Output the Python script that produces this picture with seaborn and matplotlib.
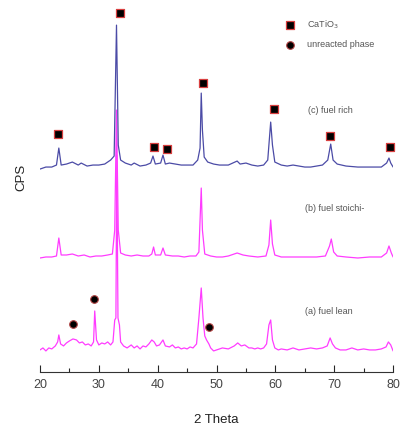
import matplotlib
matplotlib.use("Agg")
import matplotlib.pyplot as plt
import seaborn as sns
import pandas as pd

# ------------------------------------------------
# DATA (y in arbitrary CPS units, traces already offset)
# ------------------------------------------------
two_theta_c = [20, 21, 22, 22.8, 23.2, 23.6, 24.5, 25.5, 26.5, 27, 28, 29, 30, 31, 32, 32.6, 33.0, 33.3,
               33.7, 34.5, 35.5, 36, 37, 38, 38.8, 39.2, 39.6, 40.5, 40.9, 41.3, 42, 43, 44, 45, 46, 46.8,
               47.2, 47.4, 47.6, 47.9, 48.5, 49.5, 50.5, 52, 53.5, 54, 55, 56, 57, 58, 58.7, 59.2, 59.5,
               59.9, 61, 62, 63, 64, 65, 66, 67, 68, 68.9, 69.4, 69.8, 70.5, 72, 74, 76, 78, 78.9, 79.3,
               79.6, 80]
cps_c = [201, 203, 203, 205, 222, 205, 206, 208, 205, 207, 204, 205, 205, 206, 210, 214, 345, 225,
         210, 207, 205, 207, 204, 205, 207, 214, 206, 207, 215, 206, 207, 206, 205, 205, 205, 210,
         222, 277, 240, 213, 208, 206, 205, 205, 209, 206, 207, 205, 204, 205, 210, 248, 225,
         208, 205, 204, 205, 204, 203, 203, 204, 205, 210, 226, 210, 206, 204, 203, 203, 203, 207, 212,
         207, 203]

two_theta_b = [20, 21, 22, 22.8, 23.2, 23.6, 24.5, 25.5, 26.5, 27.5, 28.5, 29.5, 30.5, 31.5, 32.3, 32.7,
               33.0, 33.3, 33.7, 34.5, 35.5, 36.5, 37.5, 38.5, 39.0, 39.3, 39.6, 40.5, 40.9, 41.3, 42.5,
               43.5, 44.5, 45.5, 46.5, 47.0, 47.4, 47.6, 48.0, 49, 50, 51, 52, 53.5, 54.5, 55.5, 57,
               58.4, 58.9, 59.2, 59.5, 59.9, 61, 62.5, 64, 65.5, 67, 68.5, 69.2, 69.5, 69.9, 70.5, 72,
               74, 76, 78, 78.9, 79.3, 79.7, 80]
cps_b = [112, 113, 113, 114, 132, 115, 115, 116, 114, 115, 113, 114, 114, 115, 116, 140,
         260, 140, 117, 115, 114, 115, 114, 114, 116, 123, 115, 115, 122, 115, 114,
         114, 113, 114, 114, 118, 182, 140, 116, 114, 113, 113, 114, 117, 115, 114, 113,
         114, 125, 150, 126, 115, 113, 113, 113, 113, 113, 114, 124, 131, 118, 114, 113,
         112, 113, 113, 117, 124, 117, 113]

two_theta_a = [20, 20.5, 21, 21.5, 22, 22.6, 23.0, 23.2, 23.5, 24, 24.5, 25, 25.6, 26.2, 26.7, 27.2,
               27.7, 28.2, 28.7, 29.1, 29.3, 29.6, 30, 30.5, 31, 31.5, 32, 32.4, 32.7, 32.9, 33.05,
               33.25, 33.5, 33.7, 34.2, 34.8, 35.5, 36, 36.5, 37, 37.5, 38, 38.5, 39, 39.4, 39.8, 40.3,
               40.9, 41.3, 42, 42.5, 43, 43.5, 44, 44.5, 45, 45.5, 46, 46.6, 47.0, 47.4, 47.7, 48.0,
               48.3, 48.7, 49, 49.5, 50, 50.5, 51, 52, 53, 53.6, 54.2, 54.8, 55.5, 56, 56.5, 57, 57.5,
               58, 58.5, 58.9, 59.2, 59.5, 59.9, 60.5, 61, 62, 63, 63.5, 64, 65, 66, 67, 68, 68.8,
               69.3, 69.7, 70.2, 71, 72, 73, 74, 75, 76, 77, 78, 78.8, 79.2, 79.6, 80]
cps_a = [20, 22, 19, 22, 21, 24, 28, 35, 26, 24, 27, 29, 31, 30, 27, 28,
         25, 26, 24, 28, 59, 30, 25, 27, 26, 28, 25, 28, 50, 52, 215,
         52, 45, 28, 24, 22, 25, 22, 24, 21, 24, 23, 26, 30, 28, 24, 25,
         30, 24, 23, 25, 22, 23, 21, 22, 21, 23, 22, 26, 52, 82, 52, 34,
         30, 26, 22, 19, 20, 21, 22, 21, 24, 27, 24, 25, 22, 22, 21, 22, 21,
         22, 26, 45, 50, 30, 22, 20, 21, 20, 22, 21, 20, 21, 22, 21, 22, 24,
         32, 26, 22, 20, 20, 22, 20, 21, 20, 20, 21, 23, 28, 25, 19]

# phase markers
catio3_x = [23.1, 33.6, 39.4, 41.6, 47.7, 59.8, 69.3, 79.4]
catio3_y = [236, 357, 223, 221, 287, 261, 234, 223]
unreacted_x = [25.6, 29.2, 48.8]
unreacted_y = [46, 71, 43]

trace_labels = ["(c) fuel rich", "(b) fuel stoichi-", "(a) fuel lean"]
label_x = [65.6, 65.1, 65.1]
label_y = [260, 162, 58]

# ------------------------------------------------
# PLOT
# ------------------------------------------------
sns.set_style("white")
plt.rcParams['font.family'] = ['Liberation Sans', 'DejaVu Sans']

fig = plt.figure(figsize=(4.04, 4.28), dpi=100)
ax = fig.add_axes([0.099, 0.131, 0.874, 0.857])

blue = "#4b4ba6"
magenta = "#ff3cff"

df_c = pd.DataFrame({'two_theta': two_theta_c, 'cps': cps_c})
df_b = pd.DataFrame({'two_theta': two_theta_b, 'cps': cps_b})
df_a = pd.DataFrame({'two_theta': two_theta_a, 'cps': cps_a})

sns.lineplot(data=df_a, x='two_theta', y='cps', color=magenta, lw=0.9, sort=False, estimator=None, ax=ax)
sns.lineplot(data=df_b, x='two_theta', y='cps', color=magenta, lw=0.9, sort=False, estimator=None, ax=ax)
sns.lineplot(data=df_c, x='two_theta', y='cps', color=blue, lw=0.9, sort=False, estimator=None, ax=ax)

sns.scatterplot(x=catio3_x, y=catio3_y, marker='s', s=34, color='black', edgecolor='#d84040',
                linewidth=0.9, label='CaTiO$_3$', ax=ax, zorder=5, clip_on=False)
sns.scatterplot(x=unreacted_x, y=unreacted_y, marker='o', s=30, color='black', edgecolor='#b04040',
                linewidth=0.8, label='unreacted phase', ax=ax, zorder=5, clip_on=False)

for txt, lx, ly in zip(trace_labels, label_x, label_y):
    ax.text(lx, ly, txt, fontsize=6.5, color='#555555', va='center', ha='left')

leg = ax.legend(loc='upper left', bbox_to_anchor=(0.66, 0.985), frameon=False,
                fontsize=6.5, handletextpad=0.9, labelspacing=1.0, markerscale=1.0)
for t in leg.get_texts():
    t.set_color('#555555')

ax.set_xlim(20, 80)
ax.set_ylim(-2, 365)
ax.set_xticks([20, 30, 40, 50, 60, 70, 80])
ax.set_xticks([25, 35, 45, 55, 65, 75], minor=True)
ax.set_yticks([])
ax.tick_params(axis='x', which='major', direction='in', length=5, width=0.8, labelsize=9,
               labelcolor='#444444', pad=5, bottom=True)
ax.tick_params(axis='x', which='minor', direction='in', length=3, width=0.8, bottom=True)
for side in ['top', 'right', 'left']:
    ax.spines[side].set_visible(False)
ax.spines['bottom'].set_color('#333333')
ax.spines['bottom'].set_linewidth(0.8)

ax.set_xlabel('2 Theta', fontsize=9.5, color='#222222', labelpad=17)
ax.set_ylabel('CPS', fontsize=9.5, color='#222222')
ax.yaxis.set_label_coords(-0.035, 0.53)

fig.savefig('out.png', dpi=100)
